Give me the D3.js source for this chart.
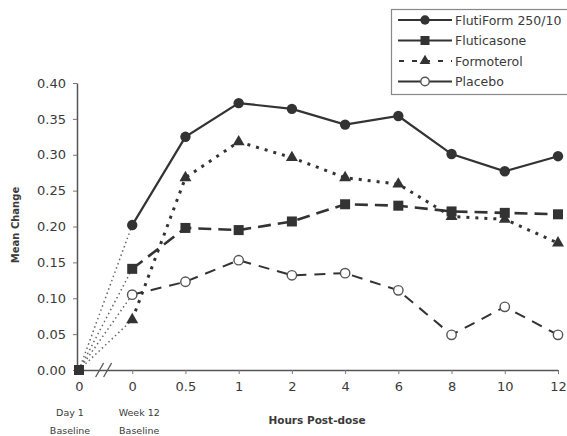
<!DOCTYPE html>
<html>
<head>
<meta charset="utf-8">
<script src="https://cdn.jsdelivr.net/npm/d3@7/dist/d3.min.js"></script>
<style>
  html, body { margin: 0; padding: 0; background: #fff; overflow: hidden; }
  svg { display: block; }
  text { font-family: "DejaVu Sans", Verdana, sans-serif; fill: #3a3a3a; }
</style>
</head>
<body>
<svg id="chart" width="567" height="436"></svg>
<script>
// Time points: Day 1 baseline, Week 12 baseline, then hours post-dose
const categories = ["day1", "wk12", "0.5", "1", "2", "4", "6", "8", "10", "12"];
const tickLabels = ["0", "0", "0.5", "1", "2", "4", "6", "8", "10", "12"];
const yTicks = [0, 0.05, 0.10, 0.15, 0.20, 0.25, 0.30, 0.35, 0.40];

// Mean change per treatment group
const flutiform   = [0, 0.202, 0.325, 0.372, 0.364, 0.342, 0.354, 0.301, 0.277, 0.298];
const fluticasone = [0, 0.141, 0.198, 0.195, 0.207, 0.231, 0.229, 0.221, 0.219, 0.217];
const formoterol  = [0, 0.070, 0.268, 0.318, 0.296, 0.268, 0.259, 0.214, 0.210, 0.177];
const placebo     = [0, 0.105, 0.123, 0.153, 0.132, 0.135, 0.111, 0.049, 0.088, 0.049];

const seriesNames = ["FlutiForm 250/10", "Fluticasone", "Formoterol", "Placebo"];

const series = [
  { name: seriesNames[0], values: flutiform,   marker: "circle",   dash: null,    width: 2.2 },
  { name: seriesNames[1], values: fluticasone, marker: "square",   dash: "13,7",  width: 2.6 },
  { name: seriesNames[2], values: formoterol,  marker: "triangle", dash: "3,6",   width: 3.0 },
  { name: seriesNames[3], values: placebo,     marker: "open",     dash: "11,8",  width: 2.0 }
];

const ink = "#333";
const font = "'DejaVu Sans', Verdana, sans-serif";
const svg = d3.select("#chart");

const x = d3.scalePoint().domain(categories).range([79, 558]);
const y = d3.scaleLinear().domain([0, 0.40]).range([370, 83]);

// Y axis
const yAxis = svg.append("g").attr("transform", "translate(77,0)")
  .call(d3.axisLeft(y).tickValues(yTicks).tickFormat(d3.format(".2f")).tickSize(4).tickSizeOuter(0));
yAxis.select(".domain").attr("stroke", "#555").attr("stroke-width", 1.5);
yAxis.selectAll(".tick line").attr("stroke", "#777");
yAxis.selectAll(".tick text").attr("font-size", 13).attr("fill", "#4a4a4a")
  .attr("font-family", font).attr("x", -11);

// X axis
const xAxis = svg.append("g").attr("transform", "translate(0,370)")
  .call(d3.axisBottom(x).tickFormat((d, i) => tickLabels[i]).tickSize(4).tickSizeOuter(0));
xAxis.select(".domain").attr("stroke", "#555").attr("stroke-width", 1.5)
  .attr("d", "M77,0.5H" + x("12"));
xAxis.selectAll(".tick line").attr("stroke", "#777");
xAxis.selectAll(".tick text").attr("font-size", 13).attr("fill", "#4a4a4a")
  .attr("font-family", font).attr("y", 12);

// Axis break marks between the two baselines
const bx = (x("day1") + x("wk12")) / 2;
[-6, 2].forEach(o => {
  svg.append("line")
    .attr("x1", bx + o - 4).attr("y1", 377)
    .attr("x2", bx + o + 4).attr("y2", 363)
    .attr("stroke", "#555").attr("stroke-width", 1.3);
});

// Baseline captions under the first two ticks
[["day1", "Day 1", -9], ["wk12", "Week 12", 7]].forEach(([k, t, dx]) => {
  svg.append("text").attr("x", x(k) + dx).attr("y", 416).attr("text-anchor", "middle")
    .attr("font-size", 9.5).text(t);
  svg.append("text").attr("x", x(k) + dx).attr("y", 434).attr("text-anchor", "middle")
    .attr("font-size", 9.5).text("Baseline");
});

// Axis titles
svg.append("text").attr("x", 317).attr("y", 424).attr("text-anchor", "middle")
  .attr("font-size", 10.5).attr("font-weight", "bold").text("Hours Post-dose");
svg.append("text").attr("transform", "translate(19,225) rotate(-90)").attr("text-anchor", "middle")
  .attr("font-size", 10).attr("font-weight", "bold").text("Mean Change");

// Marker drawing
function drawMarker(g, type, cx, cy, k = 1) {
  if (type === "circle") {
    g.append("circle").attr("cx", cx).attr("cy", cy).attr("r", 5.2 * k).attr("fill", ink);
  } else if (type === "square") {
    const s = 10 * k;
    g.append("rect").attr("x", cx - s / 2).attr("y", cy - s / 2).attr("width", s).attr("height", s).attr("fill", ink);
  } else if (type === "triangle") {
    g.append("path").attr("d", d3.symbol(d3.symbolTriangle, 62 * k * k)()).attr("transform", `translate(${cx},${cy})`).attr("fill", ink);
  } else {
    g.append("circle").attr("cx", cx).attr("cy", cy).attr("r", 4.7 * k).attr("fill", "#fff")
      .attr("stroke", "#555").attr("stroke-width", 1.4);
  }
}

const line = d3.line().x(d => x(d.k)).y(d => y(d.v));

// Dotted links from Day 1 baseline to Week 12 baseline
series.forEach(s => {
  const pts = categories.slice(0, 2).map((k, i) => ({ k, v: s.values[i] }));
  svg.append("path").attr("d", line(pts)).attr("fill", "none")
    .attr("stroke", "#666").attr("stroke-width", 1.5).attr("stroke-dasharray", "1.5,3");
});

// Treatment lines from Week 12 baseline onward
series.forEach(s => {
  const pts = categories.slice(1).map((k, i) => ({ k, v: s.values[i + 1] }));
  const p = svg.append("path").attr("d", line(pts)).attr("fill", "none")
    .attr("stroke", ink).attr("stroke-width", s.width);
  if (s.dash) p.attr("stroke-dasharray", s.dash);
});

// Markers
const markerLayer = svg.append("g");
series.slice().reverse().forEach(s => {
  categories.slice(1).forEach((k, i) => drawMarker(markerLayer, s.marker, x(k), y(s.values[i + 1])));
});
// Shared Day 1 baseline point
drawMarker(markerLayer, "square", x("day1"), y(0));

// Legend
const lg = svg.append("g");
lg.append("rect").attr("x", 391.5).attr("y", 9.5).attr("width", 260).attr("height", 85)
  .attr("fill", "#fff").attr("stroke", "#888").attr("stroke-width", 1.2);
const legendDash = [null, null, "5,8", null];
series.forEach((s, i) => {
  const ly = 20 + i * 20.5;
  const l = lg.append("line").attr("x1", 398).attr("x2", 452).attr("y1", ly).attr("y2", ly)
    .attr("stroke", ink).attr("stroke-width", 2);
  if (legendDash[i]) l.attr("stroke-dasharray", legendDash[i]).attr("stroke-dashoffset", -1);
  drawMarker(lg, s.marker, 425, ly, 0.9);
  lg.append("text").attr("x", 455).attr("y", ly + 4.5).attr("font-size", 12.5).text(s.name);
});
</script>
</body>
</html>
